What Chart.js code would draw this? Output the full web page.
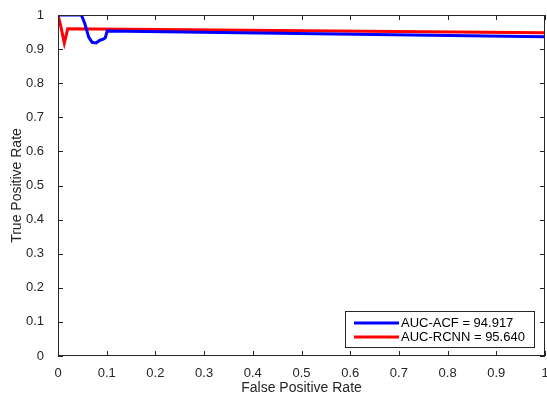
<!DOCTYPE html>
<html>
<head>
<meta charset="utf-8">
<script src="https://cdn.jsdelivr.net/npm/chart.js@4"></script>
<style>
  html, body { margin: 0; padding: 0; background: #fff; }
  #wrap { width: 547px; height: 398px; position: relative; }
</style>
</head>
<body>
<div id="wrap"><canvas id="rocChart"></canvas></div>
<script>
// ROC curve points
const acfFpr = [0, 0.048, 0.055, 0.063, 0.07, 0.078, 0.086, 0.093, 0.097, 0.101, 1];
const acfTpr = [1, 1, 0.975, 0.935, 0.92, 0.918, 0.926, 0.929, 0.933, 0.953, 0.936];
const rcnnFpr = [0, 0.006, 0.013, 0.02, 1];
const rcnnTpr = [1, 0.965, 0.918, 0.96, 0.948];
const seriesLabels = ["AUC-ACF = 94.917", "AUC-RCNN = 95.640"];
const tickValues = [0, 0.1, 0.2, 0.3, 0.4, 0.5, 0.6, 0.7, 0.8, 0.9, 1];

const toPoints = (xs, ys) => xs.map((x, i) => ({ x: x, y: ys[i] }));
const fmt = v => String(+Number(v).toFixed(1));
const fontFam = "'Liberation Sans', Arial, sans-serif";
const axisColor = "#262626";

// box + inward ticks like matlab
const boxPlugin = {
    id: "box",
    afterDraw(chart) {
        const { ctx, chartArea: a, scales } = chart;
        ctx.save();
        ctx.strokeStyle = axisColor;
        ctx.lineWidth = 1;
        ctx.strokeRect(a.left + 0.5, a.top + 0.5, a.right - a.left - 1, a.bottom - a.top - 1);
        ctx.beginPath();
        tickValues.forEach(v => {
            const px = Math.round(scales.x.getPixelForValue(v)) + 0.5;
            ctx.moveTo(px, a.bottom); ctx.lineTo(px, a.bottom - 5);
            ctx.moveTo(px, a.top); ctx.lineTo(px, a.top + 5);
            const py = Math.round(scales.y.getPixelForValue(v)) + 0.5;
            ctx.moveTo(a.left, py); ctx.lineTo(a.left + 5, py);
            ctx.moveTo(a.right, py); ctx.lineTo(a.right - 5, py);
        });
        ctx.stroke();

        // legend in lower right
        const w = 189, h = 36;
        const lx = a.right - w - 11, ly = a.bottom - h - 9;
        ctx.fillStyle = "#fff";
        ctx.fillRect(lx, ly, w, h);
        ctx.strokeStyle = axisColor;
        ctx.strokeRect(lx + 0.5, ly + 0.5, w, h);
        ctx.font = "13px " + fontFam;
        ctx.textBaseline = "middle";
        chart.data.datasets.forEach((ds, i) => {
            const yy = ly + 12 + i * 14;
            ctx.strokeStyle = ds.borderColor;
            ctx.lineWidth = 3;
            ctx.beginPath();
            ctx.moveTo(lx + 9, yy); ctx.lineTo(lx + 54, yy);
            ctx.stroke();
            ctx.fillStyle = "#000";
            ctx.fillText(ds.label, lx + 56, yy);
        });
        ctx.restore();
    }
};

new Chart(document.getElementById("rocChart").getContext("2d"), {
    type: "line",
    data: {
        datasets: [
            {
                label: seriesLabels[0],
                data: toPoints(acfFpr, acfTpr),
                borderColor: "#0000ff",
                borderWidth: 3,
                pointRadius: 0,
                fill: false,
                tension: 0
            },
            {
                label: seriesLabels[1],
                data: toPoints(rcnnFpr, rcnnTpr),
                borderColor: "#ff0000",
                borderWidth: 3,
                pointRadius: 0,
                fill: false,
                tension: 0
            }
        ]
    },
    options: {
        responsive: true,
        maintainAspectRatio: false,
        animation: false,
        layout: { padding: { top: 15, right: 2, left: 0, bottom: 0 } },
        plugins: { legend: { display: false }, tooltip: { enabled: false } },
        scales: {
            x: {
                type: "linear",
                min: 0, max: 1,
                afterBuildTicks: s => { s.ticks = tickValues.map(v => ({ value: v })); },
                afterFit: s => { s.height = 42; s.paddingRight = 0; s.paddingLeft = 0; },
                grid: { display: false },
                border: { display: false },
                ticks: {
                    color: axisColor,
                    font: { family: fontFam, size: 13 },
                    padding: 2,
                    maxRotation: 0,
                    autoSkip: false,
                    callback: fmt
                },
                title: {
                    display: true,
                    text: "False Positive Rate",
                    color: axisColor,
                    font: { family: fontFam, size: 14 },
                    padding: { top: 0, bottom: 1 }
                }
            },
            y: {
                type: "linear",
                min: 0, max: 1,
                afterBuildTicks: s => { s.ticks = tickValues.map(v => ({ value: v })); },
                afterFit: s => { s.width = 58; s.paddingTop = 0; s.paddingBottom = 0; },
                grid: { display: false },
                border: { display: false },
                ticks: {
                    color: axisColor,
                    font: { family: fontFam, size: 13 },
                    padding: 6,
                    autoSkip: false,
                    callback: fmt
                },
                title: {
                    display: true,
                    text: "True Positive Rate",
                    color: axisColor,
                    font: { family: fontFam, size: 14 },
                    padding: { top: 9, bottom: 0 }
                }
            }
        }
    },
    plugins: [boxPlugin]
});
</script>
</body>
</html>
